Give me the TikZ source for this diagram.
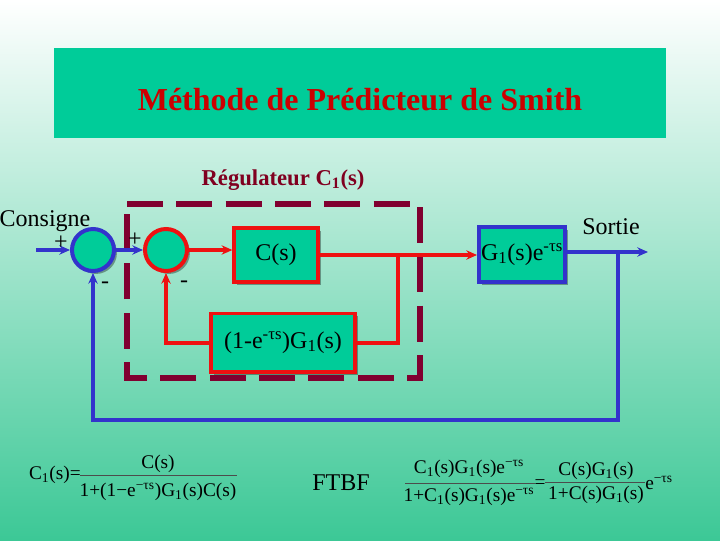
\documentclass[tikz,border=0pt]{standalone}
\usepackage{fontspec}
\setmainfont{Liberation Serif}
\usetikzlibrary{arrows.meta,shadows,calc}
\definecolor{boxgreen}{RGB}{0,204,153}
\definecolor{bgbot}{RGB}{60,200,150}
\definecolor{lblue}{RGB}{51,51,204}
\definecolor{lred}{RGB}{238,17,17}
\definecolor{maroonc}{RGB}{128,0,48}
\definecolor{titlered}{RGB}{204,0,0}
\definecolor{regred}{RGB}{128,0,32}
\begin{document}
\begin{tikzpicture}[x=0.75pt,y=-0.75pt,
  fs/.style={font=\fontsize{#1}{#1}\selectfont},
  shad/.style={drop shadow={shadow xshift=2.2pt,shadow yshift=-2.2pt,fill=black,opacity=0.35}},
  blk/.style={draw=#1,fill=boxgreen,line width=2.5pt,inner sep=0pt,shad,text=black,font=\fontsize{18pt}{18pt}\selectfont},
  sumc/.style={circle,draw=#1,fill=boxgreen,line width=3pt,minimum size=31.5pt,inner sep=0pt,shad},
  bl/.style={lblue,line width=3pt},
  rl/.style={lred,line width=3pt},
  arr/.style={-{Stealth[length=8pt,width=7pt]}},
  lbl/.style={inner sep=0pt,font=\fontsize{18pt}{18pt}\selectfont},
  frm/.style={inner sep=0pt,font=\fontsize{14.5pt}{14.5pt}\selectfont},
  bar/.style={black!70,line width=0.7pt}]
\useasboundingbox (0,0) rectangle (720,540);
\shade[top color=white,bottom color=bgbot] (0,0) rectangle (720,540);
% title
\fill[boxgreen] (54,48) rectangle (666,138);
\node[font=\bfseries\fontsize{24pt}{24pt}\selectfont,text=titlered] (title) at (360,100) {Méthode de Prédicteur de Smith};
\node[font=\bfseries\fontsize{17pt}{17pt}\selectfont,text=regred] (reg) at (283,180) {Régulateur C\textsubscript{1}(s)};
% dashed regulator box
\draw[maroonc,line width=5pt,dash pattern=on 27pt off 10pt] (127,204) -- (420,204) -- (420,378) -- (127,378) -- cycle;
% blocks
\node[sumc=lblue] (sum1) at (93,250) {};
\node[sumc=lred] (sum2) at (166,250) {};
\node[blk=lred,minimum width=63pt,minimum height=40.5pt] (C) at (276,255) {C(s)};
\node[blk=lred,minimum width=108pt,minimum height=44pt] (H) at (283,342.5) {(1-e\textsuperscript{-τs})G\textsubscript{1}(s)};
\node[blk=lblue,line width=3pt,minimum width=64.5pt,minimum height=41pt] (G) at (522,254.5) {G\textsubscript{1}(s)e\textsuperscript{-τs}};
% coordinates
\coordinate (in) at (36,250);
\coordinate (out) at (648,252);
\coordinate (b2) at (618,252);
\coordinate (fbl) at (93,420);
\coordinate (b1) at ($(C.east)+(78,0)$);
% connectors
\draw[bl,arr] (in) -- (sum1.west);
\draw[bl,arr] (sum1.east) -- (sum2.west);
\draw[rl,arr] (sum2.east) -- (sum2.east -| C.west);
\draw[rl,arr] (C.east) -- (C.east -| G.west);
\draw[rl] (b1) |- (H.east);
\draw[rl,arr] (H.west) -| (sum2.south);
\draw[bl,arr] (G.east |- out) -- (out);
\draw[bl,arr] (b2) -- (b2 |- fbl) -- (fbl) -- (sum1.south);
% labels
\node[lbl] (cons) at (45,221) {Consigne};
\node[lbl] (p1) at (61,243) {+};
\node[lbl] (p2) at (135,240) {+};
\node[lbl] (m1) at (105,285) {-};
\node[lbl] (m2) at (184,284) {-};
\node[lbl] (sortie) at (611,227) {Sortie};
% formulas
\node[frm,anchor=east] (c1eq) at (81,475) {C\textsubscript{1}(s)=};
\node[frm] (num1) at (158,464) {C(s)};
\node[frm] (den1) at (158,492) {1+(1−e\textsuperscript{−τs})G\textsubscript{1}(s)C(s)};
\draw[bar] (80,475) -- (237,475);
\node[lbl] (ftbf) at (341,483) {FTBF};
\node[frm] (num2) at (469,469) {C\textsubscript{1}(s)G\textsubscript{1}(s)e\textsuperscript{−τs}};
\node[frm] (den2) at (469,497) {1+C\textsubscript{1}(s)G\textsubscript{1}(s)e\textsuperscript{−τs}};
\draw[bar] (405,483) -- (535,483);
\node[frm] (eq) at (540,484) {=};
\node[frm] (num3) at (596,471) {C(s)G\textsubscript{1}(s)};
\node[frm] (den3) at (596,495) {1+C(s)G\textsubscript{1}(s)};
\draw[bar] (545,482) -- (645,482);
\node[frm,anchor=base west] (ex) at (645,489) {e\textsuperscript{−τs}};
\end{tikzpicture}
\end{document}
